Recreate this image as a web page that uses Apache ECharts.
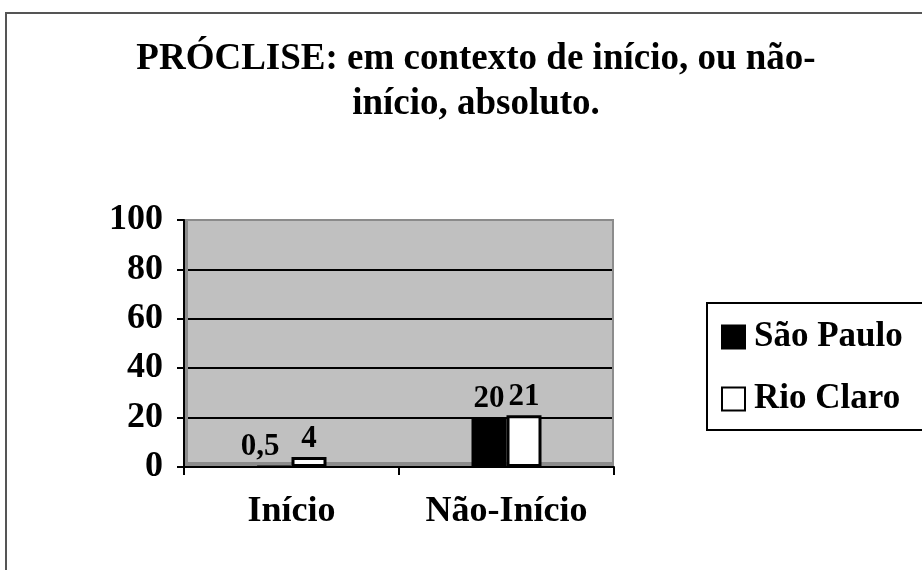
<!DOCTYPE html>
<html>
<head>
<meta charset="utf-8">
<script src="https://cdn.jsdelivr.net/npm/echarts@6/dist/echarts.min.js"></script>
<style>
  html, body { margin: 0; padding: 0; background: #fff; }
  #chart { width: 922px; height: 570px; }
</style>
</head>
<body>
<div id="chart"></div>
<script>
const categories = ['Início', 'Não-Início']
const saoPaulo = [0.5, 20]
const rioClaro = [4, 21]
const yTicks = [0, 20, 40, 60, 80, 100]

const font = 'Liberation Serif'
const chart = echarts.init(document.getElementById('chart'))

const valueLabel = {
  show: true,
  position: 'top',
  distance: 3,
  color: '#000',
  fontFamily: font,
  fontWeight: 'bold',
  fontSize: 31,
  formatter: p => String(p.value).replace('.', ',')
}

const option = {
  backgroundColor: '#fff',
  animation: false,
  title: {
    text: 'PRÓCLISE: em contexto de início, ou não-\ninício, absoluto.',
    left: 471,
    textAlign: 'center',
    top: 32,
    textStyle: {
      fontFamily: font,
      fontWeight: 'bold',
      fontSize: 37,
      lineHeight: 45,
      color: '#000'
    }
  },
  legend: {
    orient: 'vertical',
    left: 707,
    top: 303,
    icon: 'rect',
    itemWidth: 23,
    itemHeight: 23,
    itemGap: 24,
    padding: [15, 30, 12, 14],
    borderColor: '#000',
    borderWidth: 2,
    backgroundColor: '#fff',
    textStyle: {
      fontFamily: font,
      fontWeight: 'bold',
      fontSize: 35,
      lineHeight: 38,
      color: '#000',
      padding: [0, 0, 0, 4]
    },
    data: ['São Paulo', 'Rio Claro']
  },
  grid: {
    left: 184,
    right: 308,
    top: 220,
    bottom: 103,
    show: true,
    backgroundColor: '#c0c0c0',
    borderWidth: 0
  },
  xAxis: {
    type: 'category',
    data: categories,
    axisLine: {lineStyle: {color: '#000', width: 2}},
    axisTick: {show: true, length: 8, lineStyle: {color: '#000', width: 2}},
    axisLabel: {
      margin: 27,
      color: '#000',
      fontFamily: font,
      fontWeight: 'bold',
      fontSize: 36
    }
  },
  yAxis: {
    type: 'value',
    min: 0,
    max: 100,
    interval: 20,
    axisLine: {show: true, lineStyle: {color: '#000', width: 2}},
    axisTick: {show: true, length: 7, lineStyle: {color: '#000', width: 2}},
    axisLabel: {
      margin: 21,
      color: '#000',
      fontFamily: font,
      fontWeight: 'bold',
      fontSize: 36,
      formatter: v => yTicks.includes(v) ? String(v) : ''
    },
    splitLine: {
      show: true,
      lineStyle: {color: ['#000', '#000', '#000', '#000', '#000', '#8a8a8a'], width: 2}
    }
  },
  series: [
    {
      name: 'São Paulo',
      type: 'bar',
      // first label sits a little left of its tiny bar, as in the original
      data: saoPaulo.map((v, i) => i === 0 ? {value: v, label: {offset: [-14, 0]}} : v),
      barWidth: 35,
      barGap: '0%',
      itemStyle: {color: '#000', borderColor: '#000', borderWidth: 2},
      label: valueLabel,
      z: 3
    },
    {
      name: 'Rio Claro',
      type: 'bar',
      data: rioClaro,
      barWidth: 35,
      itemStyle: {color: '#fff', borderColor: '#000', borderWidth: 3},
      label: valueLabel,
      z: 3
    }
  ]
}

chart.setOption(option)

// darker floor and side walls of the 3D plot box, plus the outer frame
const rect = chart.getModel().getComponent('grid').coordinateSystem.getRect()
chart.setOption({
  graphic: [
    {
      type: 'rect',
      shape: {x: 6, y: 13, width: 1000, height: 1000},
      style: {fill: 'none', stroke: '#555', lineWidth: 2},
      silent: true
    },
    {
      type: 'rect',
      shape: {x: rect.x, y: rect.y + rect.height - 5, width: rect.width, height: 5},
      style: {fill: '#8c8c8c'},
      z: 0,
      silent: true
    },
    {
      type: 'rect',
      shape: {x: rect.x, y: rect.y, width: 4, height: rect.height},
      style: {fill: '#8c8c8c'},
      z: 0,
      silent: true
    },
    {
      type: 'rect',
      shape: {x: rect.x + rect.width - 2, y: rect.y, width: 2, height: rect.height},
      style: {fill: '#8c8c8c'},
      z: 0,
      silent: true
    }
  ]
})
</script>
</body>
</html>
